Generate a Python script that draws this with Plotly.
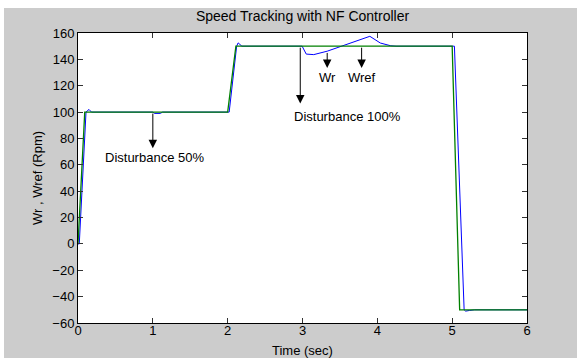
import plotly.graph_objects as go

# Reference speed (Wref)
t_ref = [0.0, 0.09, 2.0, 2.11, 5.0, 5.1, 6.0]
w_ref = [0, 100, 100, 150, 150, -50, -50]

# Actual speed (Wr)
t_wr = [0.0, 0.017, 0.107, 0.147, 0.18, 1.0, 1.02, 1.1, 1.13, 2.0, 2.02, 2.12, 2.14, 2.19,
        2.995, 3.05, 3.15, 3.33, 3.55, 3.9, 4.04, 4.18, 4.25, 5.0, 5.03, 5.16, 5.18, 5.23, 5.3, 6.0]
w_wr = [0, 0, 100, 102, 100, 100, 99, 99, 100, 100, 100, 150, 152.5, 150,
        150, 144, 143.6, 146.2, 150.7, 157.5, 152.4, 150.3, 150, 150, 150, -50, -51, -50.5, -50, -50]

title = "Speed Tracking with NF Controller"
x_label = "Time (sec)"
y_label = "Wr , Wref (Rpm)"
x_ticks = [0, 1, 2, 3, 4, 5, 6]
y_ticks = [-60, -40, -20, 0, 20, 40, 60, 80, 100, 120, 140, 160]

# annotations: (text, text_x, text_y, arrow_x, arrow_tail_y, arrow_head_y)
notes = [
    ("Disturbance 50%", 1.02, 65.5, 1.0, 100, 72.5),
    ("Disturbance 100%", 3.6, 97, 2.97, 150, 106.5),
    ("Wr", 3.33, 126.5, 3.33, 146, 133.5),
    ("Wref", 3.8, 126.5, 3.79, 150, 133.5),
]

FONT = "Liberation Sans, Arial, sans-serif"

fig = go.Figure()
fig.add_trace(go.Scatter(x=t_wr, y=w_wr, mode="lines", name="Wr",
                         line=dict(color="#0000ff", width=1)))
fig.add_trace(go.Scatter(x=t_ref, y=w_ref, mode="lines", name="Wref",
                         line=dict(color="#008000", width=1.3)))

annotations = []
for text, tx, ty, axx, tail, head in notes:
    annotations.append(dict(x=axx, y=head, ax=axx, ay=tail, xref="x", yref="y",
                            axref="x", ayref="y", text="", showarrow=True,
                            arrowhead=2, arrowsize=1.7, arrowwidth=1, arrowcolor="#000000"))
    annotations.append(dict(x=tx, y=ty, xref="x", yref="y", text=text, showarrow=False,
                            font=dict(family=FONT, size=13, color="#000000")))

# x-axis title placed below the tick labels
annotations.append(dict(x=0.5, y=(323 - 350) / 290.0, xref="paper", yref="paper",
                        text=x_label, showarrow=False, yanchor="middle",
                        font=dict(family=FONT, size=13, color="#000000")))

fig.update_layout(
    width=577, height=358,
    margin=dict(l=78, r=50, t=33, b=35, autoexpand=False),
    paper_bgcolor="#cccccc",
    plot_bgcolor="#ffffff",
    showlegend=False,
    font=dict(family=FONT, size=13, color="#000000"),
    title=dict(text=title, x=0.5, xref="paper", y=1, yref="container", yanchor="top",
               pad=dict(t=11), font=dict(family=FONT, size=14, color="#000000")),
    annotations=annotations,
    shapes=[
        dict(type="rect", xref="paper", yref="paper", x0=-0.2, x1=1.2,
             y0=(323 - 8) / 290.0, y1=1.3, fillcolor="#ffffff",
             line=dict(width=0), layer="below"),
        dict(type="rect", xref="paper", yref="paper", x0=-0.25, x1=(4 - 78) / 449.0,
             y0=-0.2, y1=1.3, fillcolor="#ffffff",
             line=dict(width=0), layer="below"),
    ],
)

fig.update_xaxes(range=[0, 6], tickvals=x_ticks, ticks="inside", ticklen=5, tickcolor="#333333",
                 showline=True, linecolor="#000000", linewidth=1, mirror="ticks",
                 showgrid=False, zeroline=False, ticklabelstandoff=-5, automargin=False)
fig.update_yaxes(range=[-60, 160], tickvals=y_ticks, ticks="inside", ticklen=5, tickcolor="#333333",
                 showline=True, linecolor="#000000", linewidth=1, mirror="ticks",
                 showgrid=False, zeroline=False, automargin=False,
                 title=dict(text=y_label, standoff=6, font=dict(family=FONT, size=13)))

fig.write_html("out.html")
